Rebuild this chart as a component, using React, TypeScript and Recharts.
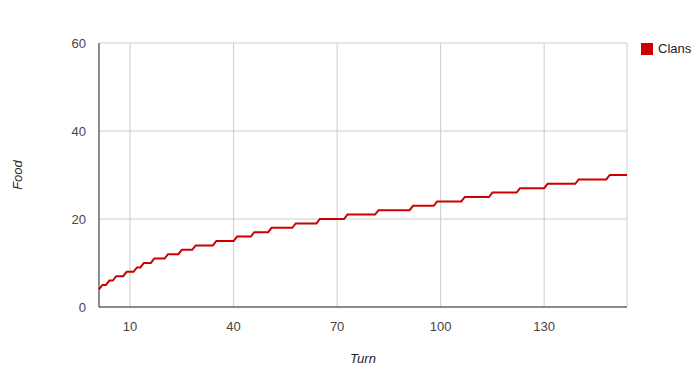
import React from 'react';
import { LineChart, Line, XAxis, YAxis, CartesianGrid } from 'recharts';

// corners of the stepped line (turn, food)
const turns = [
  1, 2, 3, 4, 5, 6, 8, 9, 11, 12, 13, 14, 16, 17, 20, 21, 24, 25, 28, 29, 34, 35, 40, 41, 45, 46, 50, 51, 57,
  58, 64, 65, 72, 73, 81, 82, 91, 92, 98, 99, 106, 107, 114, 115, 122, 123, 130, 131, 139, 140, 148, 149, 154,
];
const food = [
  4, 5, 5, 6, 6, 7, 7, 8, 8, 9, 9, 10, 10, 11, 11, 12, 12, 13, 13, 14, 14, 15, 15, 16, 16, 17, 17, 18, 18,
  19, 19, 20, 20, 21, 21, 22, 22, 23, 23, 24, 24, 25, 25, 26, 26, 27, 27, 28, 28, 29, 29, 30, 30,
];
const xTicks = [10, 40, 70, 100, 130];
const yTicks = [0, 20, 40, 60];
const seriesName = 'Clans';

const data = turns.map((t, i) => ({ turn: t, food: food[i] }));

const font = 'Arial, "Liberation Sans", sans-serif';
const red = '#cc0000';

export default function App() {
  return (
    <div style={{ position: 'absolute', left: 0, top: 0, width: 700, height: 380, background: '#fff', fontFamily: font }}>
      <LineChart width={700} height={380} data={data} margin={{ top: 43, right: 73, bottom: 0, left: 0 }}>
        <CartesianGrid stroke="#cccccc" verticalPoints={undefined} />
        <XAxis
          dataKey="turn"
          type="number"
          domain={[1, 154]}
          ticks={xTicks}
          height={73}
          axisLine={{ stroke: '#333333' }}
          tickLine={false}
          tickMargin={9}
          tick={{ fill: '#444444', fontSize: 13, fontFamily: font }}
          label={{
            content: (props: any) => {
              const vb = props.viewBox;
              return (
                <text
                  x={vb.x + vb.width / 2}
                  y={vb.y + 51}
                  textAnchor="middle"
                  dominantBaseline="central"
                  fill="#222222"
                  fontSize={13}
                  fontStyle="italic"
                  fontFamily={font}
                >
                  Turn
                </text>
              );
            },
          }}
        />
        <YAxis
          type="number"
          domain={[0, 60]}
          ticks={yTicks}
          width={99}
          axisLine={{ stroke: '#333333' }}
          tickLine={false}
          tickMargin={7}
          tick={{ fill: '#444444', fontSize: 13, fontFamily: font }}
          label={{
            content: (props: any) => {
              const vb = props.viewBox;
              const cx = vb.x + 17;
              const cy = vb.y + vb.height / 2;
              return (
                <text
                  x={cx}
                  y={cy}
                  textAnchor="middle"
                  dominantBaseline="central"
                  transform={`rotate(-90 ${cx} ${cy})`}
                  fill="#222222"
                  fontSize={13}
                  fontStyle="italic"
                  fontFamily={font}
                >
                  Food
                </text>
              );
            },
          }}
        />
        <Line
          type="linear"
          dataKey="food"
          name={seriesName}
          stroke={red}
          strokeWidth={2}
          dot={false}
          activeDot={false}
          isAnimationActive={false}
        />
      </LineChart>
      <div
        style={{
          position: 'absolute',
          left: 641,
          top: 41,
          display: 'flex',
          alignItems: 'center',
          fontSize: 13,
          color: '#222222',
        }}
      >
        <span style={{ display: 'inline-block', width: 12, height: 12, background: red, marginRight: 5 }} />
        <span>{seriesName}</span>
      </div>
    </div>
  );
}
